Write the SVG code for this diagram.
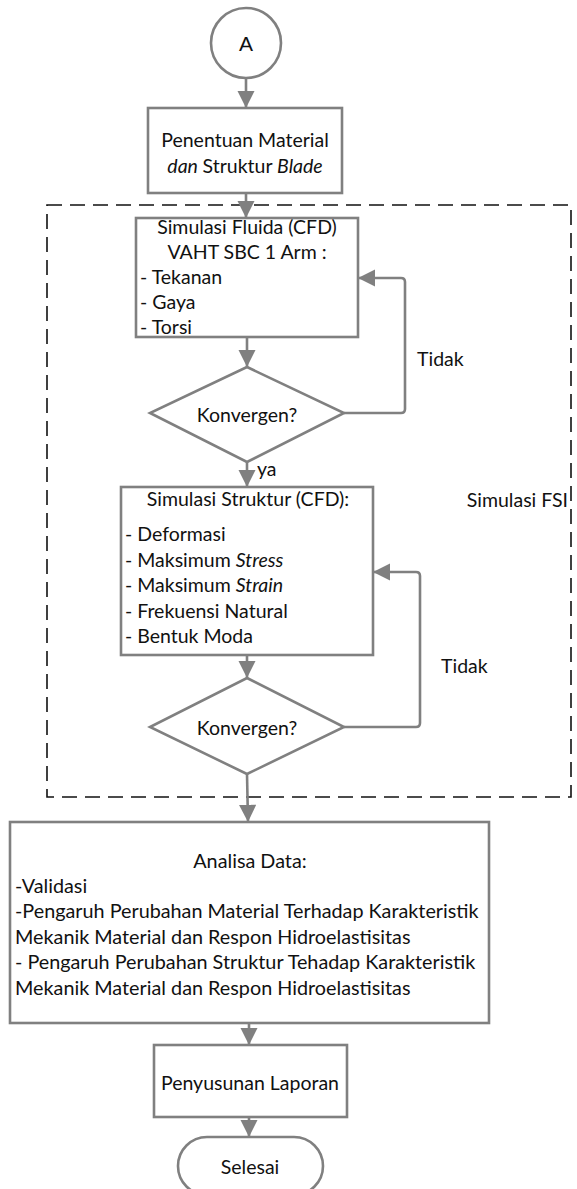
<svg xmlns="http://www.w3.org/2000/svg" width="577" height="1189" viewBox="0 0 577 1189">
<defs>
<style>
.n{fill:#fff;stroke:#808080;stroke-width:2.6}
.c{fill:none;stroke:#808080;stroke-width:2.6;stroke-linejoin:round}
.t{font-family:Lato,"Open Sans",sans-serif;font-size:19.5px;fill:#111}
.b{font-size:19.8px}
.m{text-anchor:middle}
.i{font-style:italic}
.fr{fill:none;stroke:#111;stroke-width:1.6;stroke-dasharray:15 8}
</style>
<marker id="ah" viewBox="0 0 10 10" refX="10" refY="5" markerWidth="6.8" markerHeight="6.6" markerUnits="strokeWidth" orient="auto">
<path d="M0,0 L10,5 L0,10 z" fill="#808080"/>
</marker>
</defs>
<rect id="fsi-frame" class="fr" x="47" y="205" width="524" height="592"/>
<text class="t" x="568" y="507" text-anchor="end">Simulasi FSI</text>
<g id="connectors">
<path class="c" d="M246,79 V108" marker-end="url(#ah)"/>
<path class="c" d="M246,193 V218" marker-end="url(#ah)"/>
<path class="c" d="M247,337 V367" marker-end="url(#ah)"/>
<path class="c" d="M344,413 H401 Q405,413 405,409 V282 Q405,278 401,278 H358" marker-end="url(#ah)"/>
<path class="c" d="M247,462 V487" marker-end="url(#ah)"/>
<path class="c" d="M247,655 V678" marker-end="url(#ah)"/>
<path class="c" d="M344,727 H416 Q420,727 420,723 V576 Q420,572 416,572 H373" marker-end="url(#ah)"/>
<path class="c" d="M247,774 L248,822" marker-end="url(#ah)"/>
<path class="c" d="M249,1023 V1045" marker-end="url(#ah)"/>
<path class="c" d="M249,1117 V1137" marker-end="url(#ah)"/>
<text class="t" x="417" y="366">Tidak</text>
<text class="t" x="257" y="476">ya</text>
<text class="t" x="441" y="673">Tidak</text>
</g>
<g id="start">
<circle class="n" cx="246" cy="43" r="35"/>
<text class="t m" x="246" y="51" style="font-family:'Liberation Sans',sans-serif;font-size:21px">A</text>
</g>
<g id="penentuan">
<rect class="n" x="148" y="108" width="194" height="85"/>
<text class="t m" x="245" y="147">Penentuan Material</text>
<text class="t m" x="245" y="173"><tspan class="i">dan </tspan>Struktur <tspan class="i">Blade</tspan></text>
</g>
<g id="fluida">
<rect class="n" x="136" y="218" width="222" height="119"/>
<text class="t m" x="247" y="234">Simulasi Fluida (CFD)</text>
<text class="t m" x="247" y="259">VAHT SBC 1 Arm :</text>
<text class="t" x="140" y="284">- Tekanan</text>
<text class="t" x="140" y="309">- Gaya</text>
<text class="t" x="140" y="334">- Torsi</text>
</g>
<g id="konvergen1">
<polygon class="n" points="247,367 344,413 247,462 150,413"/>
<text class="t m" x="247" y="422">Konvergen?</text>
</g>
<g id="struktur">
<rect class="n" x="121" y="487" width="252" height="168"/>
<text class="t m" x="248" y="506">Simulasi Struktur (CFD):</text>
<text class="t" x="125" y="541">- Deformasi</text>
<text class="t" x="125" y="567">- Maksimum <tspan class="i">Stress</tspan></text>
<text class="t" x="125" y="592">- Maksimum <tspan class="i">Strain</tspan></text>
<text class="t" x="125" y="618">- Frekuensi Natural</text>
<text class="t" x="125" y="643">- Bentuk Moda</text>
</g>
<g id="konvergen2">
<polygon class="n" points="247,678 344,727 247,774 150,727"/>
<text class="t m" x="247" y="735">Konvergen?</text>
</g>
<g id="analisa">
<rect class="n" x="10" y="822" width="479" height="201"/>
<text class="t b m" x="250" y="868">Analisa Data:</text>
<text class="t b" x="15" y="893">-Validasi</text>
<text class="t b" x="15" y="918">-Pengaruh Perubahan Material Terhadap Karakteristik</text>
<text class="t b" x="15" y="944">Mekanik Material dan Respon Hidroelastisitas</text>
<text class="t b" x="15" y="969">- Pengaruh Perubahan Struktur Tehadap Karakteristik</text>
<text class="t b" x="15" y="995">Mekanik Material dan Respon Hidroelastisitas</text>
</g>
<g id="laporan">
<rect class="n" x="154" y="1045" width="193" height="72"/>
<text class="t m" x="250" y="1090">Penyusunan Laporan</text>
</g>
<g id="selesai">
<rect class="n" x="178" y="1137" width="145" height="58" rx="29"/>
<text class="t m" x="250" y="1174">Selesai</text>
</g>
</svg>
